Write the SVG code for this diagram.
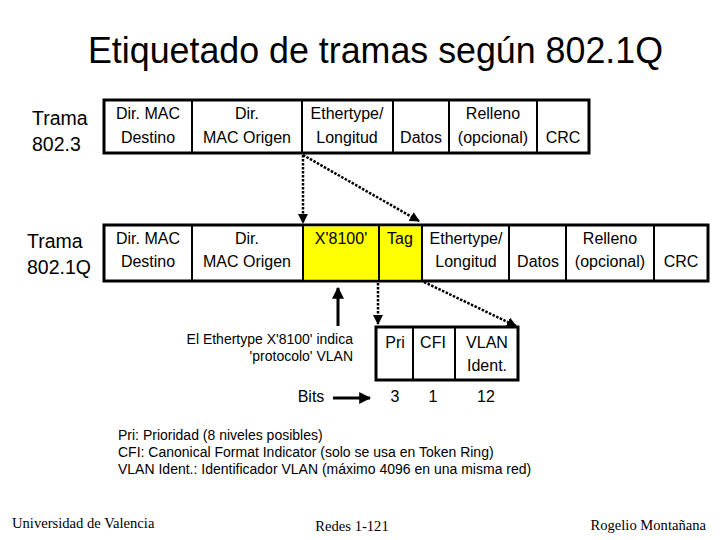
<svg xmlns="http://www.w3.org/2000/svg" width="720" height="540" viewBox="0 0 720 540">
<style>
text{font-family:"Liberation Sans",Arial,sans-serif;fill:#000}
.c{font-size:16px;text-anchor:middle}
.lab{font-size:19.5px}
.n{font-size:14px}
.f{font-family:"Liberation Serif","Times New Roman",serif;font-size:14.6px}
.box{fill:#fff;stroke:#000;stroke-width:3}
.div{stroke:#000;stroke-width:2}
.y{fill:#ffff00}
.dot{stroke:#000;stroke-width:2.5;stroke-dasharray:2.5 1.5;fill:none}
.sol{stroke:#000;stroke-width:3;fill:none}
</style>
<defs>
<marker id="ah" viewBox="0 0 10 10" refX="9" refY="5" markerWidth="4" markerHeight="4" orient="auto" markerUnits="strokeWidth"><path d="M0,0 L10,5 L0,10 z" fill="#000"/></marker>
</defs>
<text x="88" y="63" textLength="575" lengthAdjust="spacingAndGlyphs" style="font-size:36px">Etiquetado de tramas según 802.1Q</text>

<g id="trama8023">
<text class="lab" x="32" y="125">Trama</text>
<text class="lab" x="32" y="151">802.3</text>
<rect class="box" x="104" y="100" width="485" height="53"/>
<line class="div" x1="192" y1="100" x2="192" y2="153"/>
<line class="div" x1="302" y1="100" x2="302" y2="153"/>
<line class="div" x1="393" y1="100" x2="393" y2="153"/>
<line class="div" x1="449" y1="100" x2="449" y2="153"/>
<line class="div" x1="537" y1="100" x2="537" y2="153"/>
<text class="c" x="148" y="119">Dir. MAC</text>
<text class="c" x="148" y="143">Destino</text>
<text class="c" x="247" y="119">Dir.</text>
<text class="c" x="247" y="143">MAC Origen</text>
<text class="c" x="347" y="119">Ethertype/</text>
<text class="c" x="347" y="143">Longitud</text>
<text class="c" x="421" y="143">Datos</text>
<text class="c" x="493" y="119">Relleno</text>
<text class="c" x="493" y="143">(opcional)</text>
<text class="c" x="563" y="143">CRC</text>
</g>

<g id="trama8021q">
<text class="lab" x="27" y="248">Trama</text>
<text class="lab" x="27" y="274">802.1Q</text>
<rect class="box" x="104" y="225" width="604" height="56"/>
<rect class="y" x="303" y="226.5" width="119" height="53"/>
<line class="div" x1="192" y1="225" x2="192" y2="281"/>
<line class="div" x1="303" y1="225" x2="303" y2="281"/>
<line class="div" x1="379" y1="225" x2="379" y2="281"/>
<line class="div" x1="422" y1="225" x2="422" y2="281"/>
<line class="div" x1="509" y1="225" x2="509" y2="281"/>
<line class="div" x1="566" y1="225" x2="566" y2="281"/>
<line class="div" x1="654" y1="225" x2="654" y2="281"/>
<text class="c" x="148" y="244">Dir. MAC</text>
<text class="c" x="148" y="267">Destino</text>
<text class="c" x="247" y="244">Dir.</text>
<text class="c" x="247" y="267">MAC Origen</text>
<text class="c" x="341" y="244">X'8100'</text>
<text class="c" x="400" y="244">Tag</text>
<text class="c" x="466" y="244">Ethertype/</text>
<text class="c" x="466" y="267">Longitud</text>
<text class="c" x="538" y="267">Datos</text>
<text class="c" x="610" y="244">Relleno</text>
<text class="c" x="610" y="267">(opcional)</text>
<text class="c" x="681" y="267">CRC</text>
</g>

<g id="tag">
<rect class="box" x="376" y="327" width="142" height="53"/>
<line class="div" x1="413" y1="327" x2="413" y2="380"/>
<line class="div" x1="455" y1="327" x2="455" y2="380"/>
<text class="c" x="395" y="348">Pri</text>
<text class="c" x="433" y="348">CFI</text>
<text class="c" x="487" y="348">VLAN</text>
<text class="c" x="487" y="371">Ident.</text>
<text class="c" x="395" y="402">3</text>
<text class="c" x="433" y="402">1</text>
<text class="c" x="486" y="402">12</text>
<text class="c" x="311" y="402">Bits</text>
</g>

<g id="nota">
<text class="n" x="353" y="344" text-anchor="end">El Ethertype X'8100' indica</text>
<text class="n" x="353" y="361" text-anchor="end">'protocolo' VLAN</text>
</g>

<g id="leyenda">
<text class="n" x="118" y="440">Pri: Prioridad (8 niveles posibles)</text>
<text class="n" x="118" y="457">CFI: Canonical Format Indicator (solo se usa en Token Ring)</text>
<text class="n" x="118" y="474">VLAN Ident.: Identificador VLAN (máximo 4096 en una misma red)</text>
</g>

<g id="connectors">
<line class="dot" x1="303" y1="155" x2="303" y2="223" marker-end="url(#ah)"/>
<line class="dot" x1="303" y1="155" x2="419" y2="221" marker-end="url(#ah)"/>
<line class="dot" x1="378" y1="283" x2="378" y2="324" marker-end="url(#ah)"/>
<line class="dot" x1="424" y1="282" x2="516" y2="326" marker-end="url(#ah)"/>
<line class="sol" x1="338" y1="326" x2="338" y2="288" marker-end="url(#ah)"/>
<line class="sol" stroke-width="2.5" x1="333" y1="398" x2="370" y2="398" marker-end="url(#ah)"/>
</g>

<g id="pie">
<text class="f" x="12" y="528">Universidad de Valencia</text>
<text class="f" x="352" y="531" text-anchor="middle">Redes 1-121</text>
<text class="f" x="706" y="530" text-anchor="end">Rogelio Montañana</text>
</g>
</svg>
